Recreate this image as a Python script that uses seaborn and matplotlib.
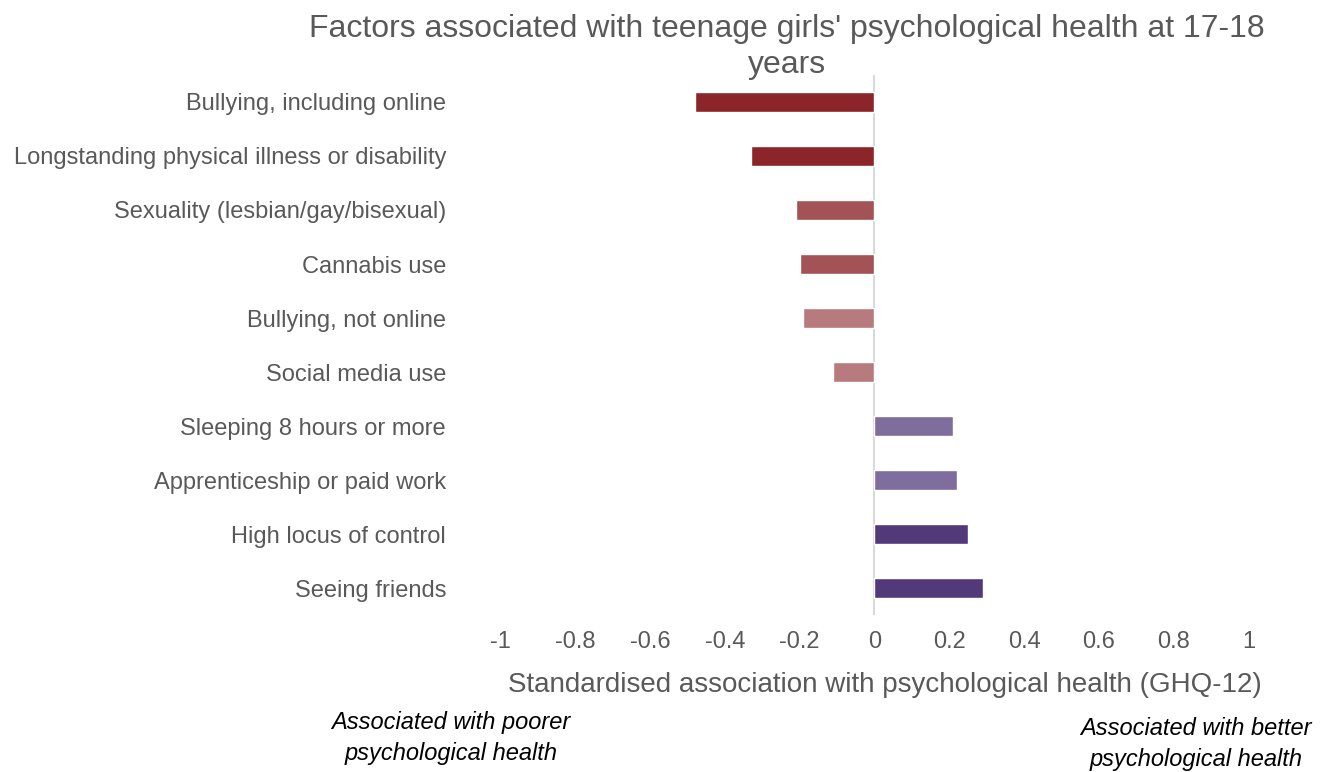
import pandas as pd
import seaborn as sns
import matplotlib.pyplot as plt

factors = [
    "Bullying, including online",
    "Longstanding physical illness or disability",
    "Sexuality (lesbian/gay/bisexual)",
    "Cannabis use",
    "Bullying, not online",
    "Social media use",
    "Sleeping 8 hours or more",
    "Apprenticeship or paid work",
    "High locus of control",
    "Seeing friends",
]
association = [-0.48, -0.33, -0.21, -0.20, -0.19, -0.11, 0.21, 0.22, 0.25, 0.29]
bar_colors = ["#8B252A", "#8B252A", "#A35256", "#A35256", "#B87B7D",
              "#B87B7D", "#7F6D9E", "#7F6D9E", "#523A7A", "#523A7A"]
x_ticks = [-1, -0.8, -0.6, -0.4, -0.2, 0, 0.2, 0.4, 0.6, 0.8, 1]
x_tick_labels = ["-1", "-0.8", "-0.6", "-0.4", "-0.2", "0", "0.2", "0.4", "0.6", "0.8", "1"]

df = pd.DataFrame({"factor": factors, "value": association})

sns.set_style("white")
plt.rcParams['font.family'] = ['Liberation Sans', 'DejaVu Sans']
grey = "#595959"

fig = plt.figure(figsize=(13.27, 7.72), dpi=100)
ax = fig.add_axes([0.377, 0.203, 0.564, 0.700])

sns.barplot(data=df, x="value", y="factor", hue="factor", palette=bar_colors,
            orient="h", width=0.37, legend=False, saturation=1, ax=ax)

ax.axvline(0, color="#D9D9D9", lw=1.5, zorder=0)
ax.set_xlim(-1, 1)
ax.set_ylim(9.5, -0.5)
ax.tick_params(axis="both", length=0, colors=grey)
ax.tick_params(axis="x", pad=11)
ax.tick_params(axis="y", pad=39, labelsize=17)
ax.set_xticks(x_ticks)
ax.set_xticklabels(x_tick_labels, fontsize=17, color=grey)
for s in ax.spines.values():
    s.set_visible(False)
ax.set_ylabel("")
ax.set_xlabel("Standardised association with psychological health (GHQ-12)",
              fontsize=20, color=grey)
ax.xaxis.set_label_coords((885 - 500) / 749, -(672 - 615) / 540)

fig.text(0.593, 1 - 47 / 772, "Factors associated with teenage girls' psychological health at 17-18\nyears",
         ha="center", va="center", fontsize=23, color=grey, linespacing=1.3)

fig.text(451 / 1327, 1 - 738 / 772, "Associated with poorer\npsychological health",
         ha="center", va="center", fontsize=17, style="italic", color="black", linespacing=1.45)
fig.text(1196 / 1327, 1 - 744 / 772, "Associated with better\npsychological health",
         ha="center", va="center", fontsize=17, style="italic", color="black", linespacing=1.4)

plt.savefig("out.png", dpi=100)
